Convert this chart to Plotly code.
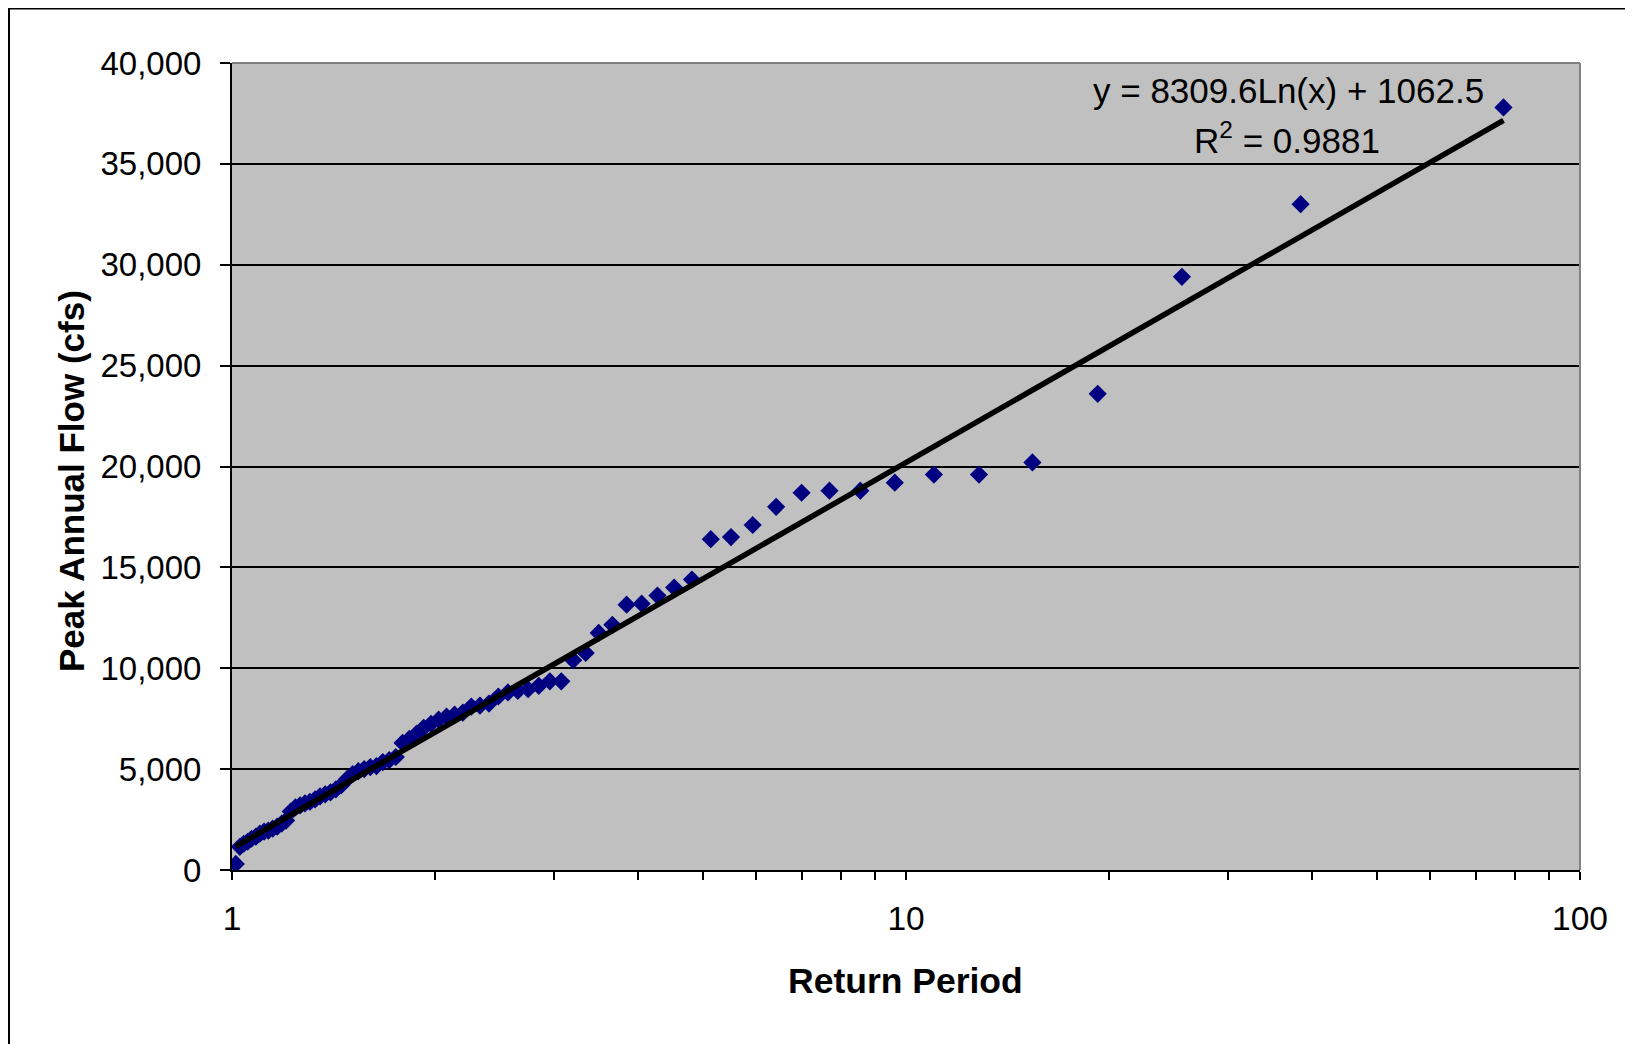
import plotly.graph_objects as go
import math

# ---- data ----
return_period = [
    77.000, 38.500, 25.667, 19.250, 15.400, 12.833, 11.000, 9.625, 8.556, 7.700,
    7.000, 6.417, 5.923, 5.500, 5.133, 4.813, 4.529, 4.278, 4.053, 3.850,
    3.667, 3.500, 3.348, 3.208, 3.080, 2.962, 2.852, 2.750, 2.655, 2.567,
    2.484, 2.406, 2.333, 2.265, 2.200, 2.139, 2.081, 2.026, 1.974, 1.925,
    1.878, 1.833, 1.791, 1.750, 1.711, 1.674, 1.638, 1.604, 1.571, 1.540,
    1.510, 1.481, 1.453, 1.426, 1.400, 1.375, 1.351, 1.328, 1.305, 1.283,
    1.262, 1.242, 1.222, 1.203, 1.185, 1.167, 1.149, 1.132, 1.116, 1.100,
    1.085, 1.069, 1.055, 1.041, 1.027, 1.013,
]
peak_flow = [
    37800, 33000, 29400, 23600, 20200, 19600, 19600, 19200, 18800, 18800,
    18700, 18000, 17100, 16500, 16400, 14400, 14000, 13600, 13200, 13150,
    12150, 11750, 10760, 10400, 9350, 9350, 9130, 8960, 8880, 8800,
    8600, 8250, 8150, 8100, 7800, 7700, 7600, 7450, 7250, 7050,
    6750, 6500, 6300, 5600, 5450, 5350, 5150, 5100, 5000, 4900,
    4750, 4500, 4200, 4000, 3850, 3750, 3650, 3500, 3380, 3300,
    3200, 3100, 2900, 2450, 2300, 2150, 2050, 1950, 1900, 1800,
    1650, 1550, 1400, 1300, 1150, 300,
]
trend_slope = 8309.6
trend_intercept = 1062.5
r_squared = "0.9881"

x_major_ticks = [1, 10, 100]
x_major_labels = ["1", "10", "100"]
x_minor_ticks = [2, 3, 4, 5, 6, 7, 8, 9, 20, 30, 40, 50, 60, 70, 80, 90]
y_tick_vals = [0, 5000, 10000, 15000, 20000, 25000, 30000, 35000, 40000]
y_tick_text = ["0", "5,000", "10,000", "15,000", "20,000", "25,000", "30,000", "35,000", "40,000"]

# ---- layout geometry (pixels, relative to the figure div; page adds 8px body margin) ----
W, H = 1625, 1036
L, R, T, B = 224, 1572, 55, 862
pw, ph = R - L, B - T


def px(x):
    return (x - L) / pw


def py(y):
    return (B - y) / ph


FONT = "Liberation Sans, Arial, sans-serif"

trend_x = sorted(return_period)
trend_y = [trend_slope * math.log(v) + trend_intercept for v in trend_x]

fig = go.Figure()
fig.add_trace(go.Scatter(
    x=return_period, y=peak_flow, mode="markers",
    marker=dict(symbol="diamond", size=14, color="#000080", line=dict(width=0)),
    showlegend=False, hoverinfo="x+y",
))
fig.add_trace(go.Scatter(
    x=trend_x, y=trend_y, mode="lines",
    line=dict(color="black", width=5.5),
    showlegend=False, hoverinfo="skip",
))

fig.update_layout(
    width=W, height=H,
    margin=dict(l=L, r=W - R, t=T, b=H - B, pad=0),
    paper_bgcolor="white",
    plot_bgcolor="#C0C0C0",
    font=dict(family=FONT, size=33, color="black"),
    showlegend=False,
)
fig.update_xaxes(
    type="log", range=[0, 2],
    tickmode="array", tickvals=x_major_ticks, ticktext=x_major_labels,
    ticks="outside", ticklen=8, tickwidth=2, tickcolor="black",
    minor=dict(tickmode="array", tickvals=x_minor_ticks, ticks="outside",
               ticklen=8, tickwidth=2, tickcolor="black", showgrid=False),
    showgrid=False, zeroline=False,
    showline=True, linecolor="black", linewidth=2,
    tickfont=dict(size=33.5, family=FONT, color="black"),
    ticklabelstandoff=10,
)
fig.update_yaxes(
    range=[0, 40000],
    tickmode="array", tickvals=y_tick_vals, ticktext=y_tick_text,
    ticks="outside", ticklen=10, tickwidth=2, tickcolor="black",
    showgrid=True, gridcolor="black", gridwidth=1.5,
    zeroline=False,
    showline=True, linecolor="black", linewidth=2,
    tickfont=dict(size=33, family=FONT, color="black"),
    ticklabelstandoff=12,
)

shapes = [
    # plot area top and right border (gray)
    dict(type="line", xref="paper", yref="paper", x0=0, x1=1, y0=1, y1=1,
         line=dict(color="#808080", width=2), layer="above"),
    dict(type="line", xref="paper", yref="paper", x0=1, x1=1, y0=0, y1=1,
         line=dict(color="#808080", width=2), layer="above"),
    # outer chart border
    dict(type="rect", xref="paper", yref="paper",
         x0=px(1), x1=px(1660), y0=py(1070), y1=py(0.5),
         line=dict(color="black", width=2), fillcolor="rgba(0,0,0,0)", layer="above"),
]
fig.update_layout(shapes=shapes)

annotations = [
    dict(text="y = 8309.6Ln(x) + 1062.5", x=px(1280), y=py(82), xref="paper", yref="paper",
         showarrow=False, xanchor="center", yanchor="middle",
         font=dict(size=35, family=FONT, color="black")),
    dict(text="R<sup>2</sup> = " + r_squared, x=px(1279), y=py(130), xref="paper", yref="paper",
         showarrow=False, xanchor="center", yanchor="middle",
         font=dict(size=35, family=FONT, color="black")),
    dict(text="<b>Peak Annual Flow (cfs)</b>", x=px(63), y=py(473), xref="paper", yref="paper",
         showarrow=False, xanchor="center", yanchor="middle", textangle=-90,
         font=dict(size=35, family=FONT, color="black")),
    dict(text="<b>Return Period</b>", x=px(897), y=py(973), xref="paper", yref="paper",
         showarrow=False, xanchor="center", yanchor="middle",
         font=dict(size=35.5, family=FONT, color="black")),
]
fig.update_layout(annotations=annotations)

fig.write_html("out.html")
